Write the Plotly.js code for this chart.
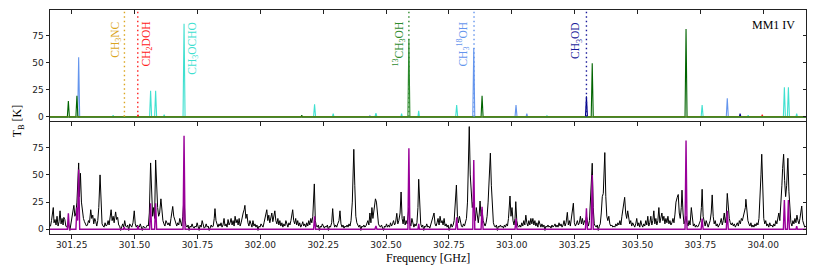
<!DOCTYPE html>
<html>
<head>
<meta charset="utf-8">
<script src="https://cdn.plot.ly/plotly-3.0.1.min.js"></script>
<style>html,body{margin:0;padding:0;background:#fff;}#chart{width:831px;height:267px;}</style>
</head>
<body>
<div id="chart"></div>
<script>
// ---- data (GHz, K) ----
const xRange = [301.164, 304.170];
const yRangeTop = [-3.7, 98.6];
const yRangeBot = [-4.3, 98.6];
const xTickVals = [301.25, 301.50, 301.75, 302.00, 302.25, 302.50, 302.75, 303.00, 303.25, 303.50, 303.75, 304.00];
const xTickText = ["301.25", "301.50", "301.75", "302.00", "302.25", "302.50", "302.75", "303.00", "303.25", "303.50", "303.75", "304.00"];
const yTickVals = [0, 25, 50, 75];

// individual species models (top panel)
const ch3nc = [[301.164,0],[301.456,0],[301.459,1.5],[301.462,0],[304.170,0]];
const ch2doh = [[301.164,0],[301.511,0],[301.514,2],[301.517,0],[303.993,0],[303.996,2],[303.999,0],[304.170,0]];
const ch3ocho = [[301.164,0],[301.412,0],[301.415,1.5],[301.418,0],[301.560,0],[301.564,24],[301.568,0],[301.580,0],[301.584,24],[301.588,0],[301.615,0],[301.618,2],[301.621,0],[301.693,0],[301.697,86],[301.701,0],[302.212,0],[302.216,11.7],[302.220,0],[302.287,0],[302.290,3],[302.293,0],[302.456,0],[302.460,3.4],[302.464,0],[302.559,0],[302.562,3],[302.565,0],[302.627,0],[302.630,5.5],[302.633,0],[302.777,0],[302.781,11],[302.785,0],[303.137,0],[303.140,1],[303.143,0],[303.753,0],[303.757,10.8],[303.761,0],[303.937,0],[303.940,1.5],[303.943,0],[304.080,0],[304.084,27.4],[304.088,0],[304.096,0],[304.100,27.4],[304.104,0],[304.130,0],[304.133,3],[304.136,0],[304.170,0]];
const ch3_18oh = [[301.164,0],[301.274,0],[301.278,55],[301.282,0],[302.433,0],[302.436,1],[302.439,0],[302.845,0],[302.849,63.6],[302.853,0],[303.013,0],[303.017,10.8],[303.021,0],[303.057,0],[303.060,3],[303.063,0],[303.853,0],[303.857,17.2],[303.861,0],[304.170,0]];
const ch3od = [[301.164,0],[303.293,0],[303.297,19],[303.301,0],[303.905,0],[303.908,3],[303.911,0],[304.170,0]];
const c13h3oh = [[301.164,0],[302.587,0],[302.591,71.6],[302.595,0],[304.170,0]];
const ch3oh = [[301.164,0],[301.233,0],[301.237,14.7],[301.241,0],[301.267,0],[301.271,19.4],[301.275,0],[302.162,0],[302.165,1.5],[302.168,0],[302.878,0],[302.882,19.4],[302.886,0],[303.316,0],[303.320,49.5],[303.324,0],[303.689,0],[303.693,81],[303.697,0],[304.170,0]];

// marked line frequencies
const lineFreqs = [301.460, 301.513, 302.591, 302.850, 303.297];
const lineColors = ["#DAA520", "#FF2020", "#2E8B2E", "#6495ED", "#1A1A9A"];

// labels
const labelTexts = ["CH<sub>3</sub>NC", "CH<sub>2</sub>DOH", "CH<sub>3</sub>OCHO", "<sup>13</sup>CH<sub>3</sub>OH", "CH<sub>3</sub><sup>18</sup>OH", "CH<sub>3</sub>OD"];
const labelFreqs = [301.426, 301.550, 301.734, 302.552, 302.807, 303.258];
const labelColors = ["#DAA520", "#FF2020", "#40E0D0", "#2E8B2E", "#6495ED", "#1A1A9A"];

// full model (bottom panel, purple)
const modelSpectrum = [[301.164,0],[301.233,0],[301.237,14.7],[301.241,0],[301.267,0],[301.271,20],[301.274,8],[301.278,55],[301.282,0],[301.456,0],[301.459,2],[301.462,0],[301.511,0],[301.514,3],[301.517,0],[301.560,0],[301.564,24],[301.568,0],[301.580,0],[301.584,24],[301.588,0],[301.693,0],[301.697,86],[301.701,0],[302.212,0],[302.216,12],[302.220,0],[302.456,0],[302.460,3],[302.464,0],[302.587,0],[302.591,74.4],[302.595,0],[302.627,0],[302.630,5],[302.633,0],[302.777,0],[302.781,11],[302.785,0],[302.845,0],[302.849,63.7],[302.853,0],[302.878,0],[302.882,20.8],[302.886,0],[303.013,0],[303.017,10],[303.021,0],[303.293,0],[303.297,19.3],[303.301,0],[303.316,0],[303.320,50],[303.324,0],[303.689,0],[303.693,81.5],[303.697,0],[303.753,0],[303.757,10],[303.761,0],[303.853,0],[303.857,17],[303.861,0],[304.080,0],[304.084,27],[304.088,0],[304.096,0],[304.100,27],[304.104,0],[304.130,0],[304.133,3],[304.136,0],[304.170,0]];

// observed spectrum (bottom panel, black)
const obsSpectrum = [
[301.164,3],[301.166,3],[301.170,8],[301.177,20],[301.180,6],[301.184,9],[301.188,4],[301.192,12],[301.196,3],[301.200,7],[301.204,17],[301.208,5],[301.212,10],[301.216,4],[301.219,11],[301.223,9],[301.227,3],[301.231,2],[301.235,5],[301.239,3],[301.243,-1],[301.247,4],[301.251,10],[301.255,14],[301.259,22],[301.263,12],[301.267,15],[301.271,25],[301.275,50],[301.278,61],[301.281,30],[301.285,51.5],[301.289,25],[301.293,14],[301.297,10],[301.301,7],[301.305,5],[301.309,3],[301.313,4],[301.317,8],[301.321,6],[301.326,18],[301.330,10],[301.334,13],[301.338,5],[301.342,10],[301.346,7],[301.350,3],[301.354,8],[301.358,20],[301.363,50],[301.367,15],[301.371,5],[301.375,3],[301.379,2],[301.383,6],[301.387,3],[301.391,4],[301.395,8],[301.399,4],[301.403,10],[301.407,18],[301.411,8],[301.415,12],[301.419,6],[301.425,16],[301.429,9],[301.433,11],[301.437,4],[301.441,3],[301.445,-1],[301.449,3],[301.453,5],[301.457,2],[301.461,8],[301.465,3],[301.469,2],[301.473,4],[301.477,-1],[301.481,5],[301.485,3],[301.489,2],[301.494,6],[301.499,17],[301.503,5],[301.507,2],[301.511,4],[301.515,3],[301.519,2],[301.523,5],[301.527,2],[301.531,-1],[301.535,3],[301.539,2],[301.543,1],[301.547,2],[301.551,4],[301.555,3],[301.559,15],[301.564,61],[301.568,25],[301.572,12],[301.576,20],[301.580,10],[301.584,63.7],[301.588,37.7],[301.592,20],[301.596,12],[301.600,15],[301.605,28],[301.609,15],[301.613,8],[301.617,5],[301.621,3],[301.625,8],[301.629,5],[301.633,4],[301.637,6],[301.641,3],[301.645,10],[301.649,18],[301.652,21],[301.656,12],[301.660,8],[301.664,5],[301.668,3],[301.672,6],[301.676,4],[301.680,10],[301.684,6],[301.688,3],[301.692,12],[301.697,30],[301.701,8],[301.705,3],[301.709,2],[301.713,4],[301.717,-1],[301.721,3],[301.725,2],[301.729,5],[301.733,2],[301.737,1],[301.741,3],[301.745,2],[301.749,6],[301.753,2],[301.757,-1],[301.761,4],[301.765,2],[301.769,8],[301.773,3],[301.777,1],[301.781,2],[301.785,5],[301.789,2],[301.793,3],[301.797,-1],[301.801,2],[301.805,4],[301.809,2],[301.813,3],[301.817,10],[301.820,19],[301.824,8],[301.828,4],[301.832,2],[301.836,5],[301.840,3],[301.844,6],[301.848,2],[301.852,4],[301.856,10],[301.860,3],[301.864,5],[301.868,2],[301.872,9],[301.876,4],[301.880,6],[301.884,10],[301.888,4],[301.892,8],[301.896,3],[301.900,12],[301.904,6],[301.908,9],[301.912,4],[301.916,10],[301.920,3],[301.924,6],[301.928,12],[301.932,15],[301.936,18],[301.939,22],[301.943,10],[301.947,14],[301.951,6],[301.955,3],[301.959,8],[301.963,4],[301.967,2],[301.971,8],[301.975,3],[301.979,5],[301.983,2],[301.987,4],[301.991,-1],[301.995,3],[301.999,2],[302.003,5],[302.007,3],[302.011,2],[302.015,6],[302.019,10],[302.023,12],[302.026,18],[302.030,8],[302.034,13],[302.038,6],[302.042,10],[302.046,15],[302.050,7],[302.054,12],[302.058,17],[302.062,8],[302.066,5],[302.070,10],[302.074,4],[302.078,8],
[302.082,3],[302.086,6],[302.090,2],[302.094,5],[302.098,3],[302.102,8],[302.106,4],[302.110,2],[302.114,6],[302.118,4],[302.122,8],[302.126,12],[302.129,18],[302.133,8],[302.137,5],[302.141,10],[302.145,4],[302.149,8],[302.153,3],[302.157,6],[302.161,2],[302.165,4],[302.169,7],[302.173,3],[302.177,5],[302.181,2],[302.185,6],[302.189,3],[302.193,8],[302.197,4],[302.201,10],[302.205,6],[302.209,12],[302.215,41.7],[302.219,8],[302.223,3],[302.227,2],[302.231,4],[302.235,-1],[302.239,3],[302.243,2],[302.247,5],[302.251,2],[302.255,1],[302.259,3],[302.263,2],[302.267,4],[302.271,-1],[302.275,3],[302.279,2],[302.284,6],[302.288,19],[302.292,6],[302.296,2],[302.300,4],[302.304,2],[302.308,5],[302.313,8],[302.317,17],[302.321,5],[302.325,2],[302.329,4],[302.333,1],[302.337,3],[302.341,2],[302.345,4],[302.349,2],[302.353,5],[302.357,3],[302.361,8],[302.366,25],[302.369,50],[302.372,73.5],[302.376,40],[302.380,12],[302.384,6],[302.388,3],[302.392,2],[302.396,4],[302.400,-1],[302.404,3],[302.408,2],[302.412,4],[302.416,2],[302.420,3],[302.424,5],[302.428,8],[302.432,4],[302.436,15],[302.440,6],[302.444,20],[302.448,10],[302.452,18],[302.456,26],[302.458,28],[302.462,25],[302.466,10],[302.470,5],[302.474,3],[302.478,2],[302.482,4],[302.486,2],[302.490,-1],[302.494,3],[302.498,2],[302.502,5],[302.506,2],[302.510,4],[302.514,2],[302.518,6],[302.522,3],[302.526,5],[302.530,8],[302.534,4],[302.538,6],[302.543,14.7],[302.547,5],[302.551,8],[302.556,15],[302.560,34.3],[302.564,10],[302.568,5],[302.572,12],[302.576,4],[302.580,8],[302.584,5],[302.588,12],[302.591,20],[302.595,6],[302.599,3],[302.603,10],[302.607,4],[302.611,2],[302.615,5],[302.619,3],[302.623,6],[302.627,20],[302.630,46],[302.634,15],[302.638,5],[302.642,2],[302.646,4],[302.650,-1],[302.654,3],[302.658,2],[302.662,5],[302.666,2],[302.670,3],[302.674,1],[302.678,4],[302.682,6],[302.686,10],[302.691,15],[302.695,5],[302.699,3],[302.703,6],[302.707,10],[302.711,4],[302.715,12],[302.719,6],[302.723,8],[302.727,4],[302.731,10],[302.735,3],[302.739,5],[302.743,2],[302.747,4],[302.751,-1],[302.755,3],[302.759,5],[302.763,2],[302.767,4],[302.771,8],[302.775,20],[302.780,40.7],[302.784,12],[302.788,6],[302.792,12],[302.796,5],[302.800,3],[302.804,2],[302.808,5],[302.812,3],[302.816,6],[302.820,10],[302.824,25],[302.828,60],[302.831,94.4],[302.835,50],[302.839,30],[302.843,20],[302.847,25],[302.851,15],[302.855,8],[302.859,20],[302.863,10],[302.867,6],[302.871,15],[302.874,26],[302.878,12],[302.882,18],[302.886,8],[302.890,4],[302.894,3],[302.898,6],[302.902,12],[302.906,25],[302.910,47],[302.915,70],[302.919,40],[302.923,15],[302.927,6],[302.931,3],[302.935,2],[302.939,4],[302.943,-1],[302.947,3],[302.951,2],[302.955,4],[302.959,2],[302.963,3],[302.967,1],[302.971,4],[302.975,2],[302.979,5],[302.983,3],[302.987,10],[302.993,30.6],[302.997,12],[303.001,20],[303.005,8],[303.009,4],[303.013,10],[303.016,25.4],[303.020,8],[303.024,3],[303.028,2],[303.032,4],[303.036,2],[303.040,6],[303.044,3],[303.048,8],[303.052,4],[303.056,13],[303.060,6],[303.064,3],[303.068,8],[303.072,4],[303.076,10],[303.080,5],[303.084,10],[303.088,4],[303.092,8],[303.096,3],[303.100,6],[303.104,2],[303.108,8],[303.112,4],[303.116,2],[303.120,5],[303.124,2],[303.128,4],[303.132,-1],[303.136,3],[303.140,2],[303.144,4],[303.148,2],[303.152,3],[303.156,1],[303.160,4],[303.164,2],[303.168,3],[303.172,5],[303.176,2],[303.180,4],[303.184,2],[303.188,6],[303.192,3],
[303.196,5],[303.200,2],[303.204,4],[303.208,8],[303.212,3],[303.216,6],[303.221,15.6],[303.225,4],[303.229,8],[303.233,3],[303.237,10],[303.241,12],[303.245,24],[303.249,6],[303.253,3],[303.257,5],[303.261,8],[303.265,4],[303.269,6],[303.273,12],[303.277,5],[303.281,10],[303.285,4],[303.289,8],[303.293,6],[303.297,12],[303.301,5],[303.305,3],[303.309,8],[303.313,25],[303.317,45],[303.320,60.7],[303.324,20],[303.328,5],[303.332,3],[303.336,2],[303.340,4],[303.344,-1],[303.348,3],[303.352,5],[303.356,15],[303.360,30],[303.364,33],[303.367,55],[303.370,70.5],[303.374,30],[303.378,12],[303.382,8],[303.386,12],[303.390,5],[303.394,3],[303.398,4],[303.402,2],[303.406,3],[303.410,2],[303.414,5],[303.418,3],[303.422,6],[303.426,4],[303.430,8],[303.434,4],[303.438,12],[303.442,20],[303.446,26],[303.449,29.4],[303.453,15],[303.457,10],[303.461,17],[303.465,8],[303.469,5],[303.473,8],[303.477,3],[303.481,6],[303.485,4],[303.489,2],[303.493,5],[303.497,10],[303.501,3],[303.505,6],[303.509,2],[303.513,8],[303.517,4],[303.521,2],[303.525,5],[303.529,3],[303.533,8],[303.537,4],[303.541,12],[303.545,3],[303.549,6],[303.553,12],[303.557,4],[303.561,8],[303.565,17],[303.569,5],[303.573,10],[303.577,4],[303.581,8],[303.585,20],[303.589,6],[303.593,10],[303.597,15],[303.601,8],[303.605,12],[303.609,5],[303.613,10],[303.617,6],[303.621,12],[303.625,5],[303.629,8],[303.633,4],[303.637,6],[303.641,10],[303.645,6],[303.649,14],[303.653,25],[303.658,29.4],[303.662,32],[303.666,15],[303.670,10],[303.674,20],[303.677,36],[303.681,15],[303.685,5],[303.689,8],[303.693,12],[303.697,6],[303.701,3],[303.705,8],[303.709,4],[303.714,20],[303.718,8],[303.722,3],[303.726,5],[303.730,2],[303.734,4],[303.738,2],[303.742,3],[303.746,5],[303.750,8],[303.754,20],[303.757,36.8],[303.761,12],[303.765,5],[303.769,3],[303.773,8],[303.777,4],[303.781,2],[303.785,5],[303.789,8],[303.793,15],[303.797,31.6],[303.801,12],[303.805,5],[303.809,8],[303.813,3],[303.817,5],[303.821,2],[303.825,4],[303.829,6],[303.833,10],[303.837,4],[303.841,8],[303.845,15],[303.849,6],[303.853,12],[303.857,33],[303.861,15],[303.865,10],[303.869,6],[303.873,4],[303.877,6],[303.881,3],[303.885,5],[303.889,2],[303.893,4],[303.897,6],[303.901,3],[303.905,8],[303.909,5],[303.913,10],[303.917,8],[303.921,12],[303.925,15],[303.929,20],[303.931,27.6],[303.935,15],[303.939,8],[303.943,5],[303.947,3],[303.951,6],[303.955,2],[303.959,4],[303.963,2],[303.967,5],[303.971,3],[303.975,6],[303.979,4],[303.983,10],[303.987,25],[303.991,50],[303.994,69],[303.998,30],[304.002,10],[304.006,5],[304.010,8],[304.014,3],[304.018,5],[304.022,2],[304.026,6],[304.030,3],[304.034,4],[304.038,2],[304.042,5],[304.046,3],[304.050,8],[304.054,5],[304.058,10],[304.062,15],[304.066,8],[304.070,20],[304.074,40],[304.077,56],[304.081,69],[304.085,45],[304.089,30],[304.093,40],[304.098,65.3],[304.102,35],[304.106,12],[304.110,6],[304.114,3],[304.118,8],[304.122,5],[304.126,10],[304.130,6],[304.134,13],[304.138,8],[304.142,5],[304.146,10],[304.150,15],[304.153,21.4],[304.157,8],[304.161,4],[304.165,2],[304.170,3]
];

// ---- build chart ----
const xs = a => a.map(p => p[0]);
const ys = a => a.map(p => p[1]);

function speciesTrace(arr, color, op) {
  return {x: xs(arr), y: ys(arr), type: 'scatter', mode: 'lines', xaxis: 'x', yaxis: 'y',
          line: {color: color, width: 1.1}, opacity: op, hoverinfo: 'skip'};
}

const traces = [
  speciesTrace(ch2doh, '#FF2020', 1),
  speciesTrace(ch3od, '#00008B', 1),
  speciesTrace(ch3_18oh, '#6495ED', 1),
  speciesTrace(ch3ocho, '#40E0D0', 1),
  speciesTrace(c13h3oh, '#2E8B2E', 1),
  speciesTrace(ch3oh, '#006400', 1),
  speciesTrace(ch3nc, '#DAA520', 0.45),
  {x: xs(obsSpectrum), y: ys(obsSpectrum), type: 'scatter', mode: 'lines', xaxis: 'x2', yaxis: 'y2',
   line: {color: '#000000', width: 1}, hoverinfo: 'skip'},
  {x: xs(modelSpectrum), y: ys(modelSpectrum), type: 'scatter', mode: 'lines', xaxis: 'x2', yaxis: 'y2',
   line: {color: '#990099', width: 1.4}, hoverinfo: 'skip'},
  {x: [], y: [], type: 'scatter', xaxis: 'x3', yaxis: 'y3', hoverinfo: 'skip'},
  {x: [], y: [], type: 'scatter', xaxis: 'x4', yaxis: 'y4', hoverinfo: 'skip'}
];

const tickFont = {family: 'DejaVu Sans, sans-serif', size: 9, color: '#222'};
const axBase = {showgrid: false, zeroline: false, showline: true, linecolor: '#222', linewidth: 1,
                ticklen: 3.5, tickwidth: 1, tickcolor: '#222', tickfont: tickFont};

function xAx(extra) { return Object.assign({}, axBase, {range: xRange, tickmode: 'array', tickvals: xTickVals, ticktext: xTickText}, extra); }
function yAx(range, extra) { return Object.assign({}, axBase, {range: range, tickmode: 'array', tickvals: yTickVals, ticktext: yTickVals.map(String)}, extra); }

const shapes = lineFreqs.map((f, i) => ({
  type: 'line', xref: 'x', yref: 'y', x0: f, x1: f, y0: 0, y1: yRangeTop[1],
  line: {color: lineColors[i], width: 1.4, dash: '1.5px,3px'}
}));

const serif = 'Liberation Serif, DejaVu Serif, serif';
const annotations = labelTexts.map((t, i) => ({
  text: t, xref: 'x', yref: 'y', x: labelFreqs[i], y: 89.5, xanchor: 'center', yanchor: 'top',
  textangle: -90, showarrow: false, font: {family: serif, size: 11.5, color: labelColors[i]}
}));
annotations.push({text: 'MM1 IV', xref: 'paper', yref: 'paper', x: 0.988, y: 0.933, xanchor: 'right', yanchor: 'middle',
  showarrow: false, font: {family: serif, size: 12, color: '#000'}});
annotations.push({text: 'T<sub>B</sub> [K]', xref: 'paper', yref: 'paper', x: -0.042, y: 0.504, xanchor: 'center', yanchor: 'middle',
  textangle: -90, showarrow: false, font: {family: serif, size: 12, color: '#000'}});
annotations.push({text: 'Frequency [GHz]', xref: 'paper', yref: 'paper', x: 0.5, y: -0.108, xanchor: 'center', yanchor: 'middle',
  showarrow: false, font: {family: serif, size: 12, color: '#000'}});

const layout = {
  width: 831, height: 267,
  margin: {l: 50, r: 25, t: 10, b: 33, pad: 0},
  paper_bgcolor: '#fff', plot_bgcolor: '#fff',
  showlegend: false,
  xaxis: xAx({domain: [0, 1], anchor: 'y', side: 'bottom', ticks: 'outside', showticklabels: false}),
  yaxis: yAx(yRangeTop, {domain: [0.505, 1], anchor: 'x', side: 'left', ticks: 'outside'}),
  xaxis2: xAx({domain: [0, 1], anchor: 'y2', side: 'bottom', ticks: 'outside', showticklabels: true, ticklabelstandoff: -1}),
  yaxis2: yAx(yRangeBot, {domain: [0, 0.5], anchor: 'x2', side: 'left', ticks: 'outside'}),
  xaxis3: xAx({overlaying: 'x', anchor: 'y', side: 'top', ticks: 'inside', showticklabels: false}),
  yaxis3: yAx(yRangeTop, {overlaying: 'y', anchor: 'x', side: 'right', ticks: 'inside', showticklabels: false}),
  xaxis4: xAx({overlaying: 'x2', anchor: 'y2', side: 'top', ticks: 'inside', showticklabels: false}),
  yaxis4: yAx(yRangeBot, {overlaying: 'y2', anchor: 'x2', side: 'right', ticks: 'inside', showticklabels: false}),
  shapes: shapes,
  annotations: annotations
};

Plotly.newPlot('chart', traces, layout, {staticPlot: true, displayModeBar: false});
</script>
</body>
</html>
